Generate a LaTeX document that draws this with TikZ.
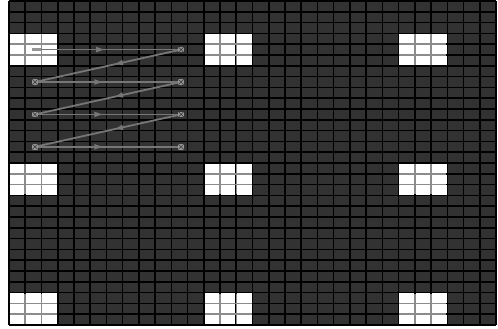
\documentclass[tikz,border=0pt]{standalone}
\usetikzlibrary{decorations.markings,arrows.meta,calc}
\definecolor{cellc}{RGB}{50,50,50}
\definecolor{connc}{RGB}{118,118,118}
\definecolor{mkc}{RGB}{150,150,150}
\definecolor{wlinec}{RGB}{140,140,140}
\begin{document}
\begin{tikzpicture}[x=1pt,y=-1pt,
  gridline/.style={line width=1.6pt, draw=black},
  whiteline/.style={line width=1.5pt, draw=wlinec},
  mk/.style={inner sep=0pt, minimum size=5.5pt, fill=mkc,
    path picture={\draw[cellc, line width=0.5pt]
      (path picture bounding box.north west) -- (path picture bounding box.south east)
      (path picture bounding box.north east) -- (path picture bounding box.south west);}},
  mkstart/.style={inner sep=0pt, minimum width=9pt, minimum height=3pt, fill=mkc},
  conn/.style={draw=connc, line width=1.8pt,
    postaction={decorate, decoration={markings,
      mark=at position #1 with {\arrow[connc]{Triangle[length=8pt,width=5pt]}}}}},
  conn/.default=0.46
]
\useasboundingbox (0,0) rectangle (498,329);
\fill[white] (0,0) rectangle (498,329);
\begin{scope}[shift={(9,1)}, x=16.2333pt, y=-10.8pt]
  \fill[cellc] (0,0) rectangle (30,30);
  \foreach \bx in {0,12,24} {
    \foreach \by in {3,15,27} {
      \fill[white] (\bx,\by) rectangle ++(3,3);
    }
  }
  \foreach \ii in {0,...,30} {
    \draw[gridline] (\ii,0) -- (\ii,30);
    \draw[gridline] (0,\ii) -- (30,\ii);
  }
  \foreach \bx in {0,12,24} {
    \foreach \by in {3,15,27} {
      \draw[whiteline] ($(\bx,\by)+(1,0.1)$) -- ++(0,2.8);
      \draw[whiteline] ($(\bx,\by)+(2,0.1)$) -- ++(0,2.8);
      \draw[whiteline] ($(\bx,\by)+(0.05,1)$) -- ++(2.9,0);
      \draw[whiteline] ($(\bx,\by)+(0.05,2)$) -- ++(2.9,0);
    }
  }
  \node[mkstart] (a1) at (1.7,4.5) {};
  \node[mk] (b1) at (10.6,4.5) {};
  \node[mk] (a2) at (1.6,7.5) {};
  \node[mk] (b2) at (10.6,7.5) {};
  \node[mk] (a3) at (1.6,10.5) {};
  \node[mk] (b3) at (10.6,10.5) {};
  \node[mk] (a4) at (1.6,13.5) {};
  \node[mk] (b4) at (10.6,13.5) {};
\end{scope}
\draw[conn] (a1) -- (b1);
\draw[conn=0.45] (b1) -- (a2);
\draw[conn] (a2) -- (b2);
\draw[conn=0.45] (b2) -- (a3);
\draw[conn] (a3) -- (b3);
\draw[conn=0.45] (b3) -- (a4);
\draw[conn] (a4) -- (b4);
\end{tikzpicture}
\end{document}
